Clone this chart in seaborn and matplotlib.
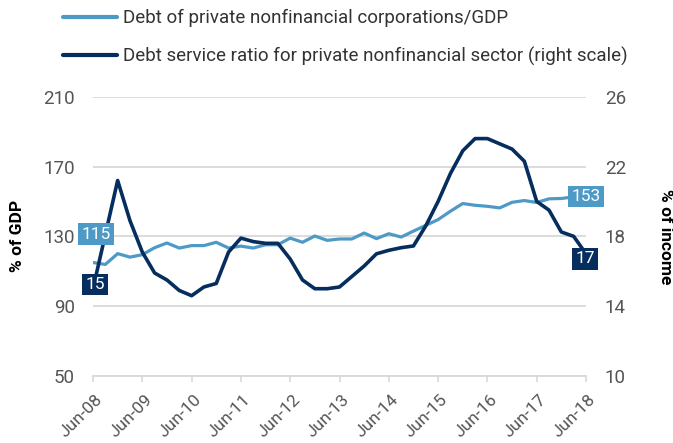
import matplotlib
matplotlib.use("Agg")
import matplotlib.pyplot as plt
from matplotlib.transforms import ScaledTranslation
import seaborn as sns
import pandas as pd
import numpy as np

# Quarterly observations, Jun-08 through Jun-18
quarters = pd.period_range("2008Q2", "2018Q2", freq="Q").strftime("%b-%y").tolist()

# Debt of private nonfinancial corporations, % of GDP
debt_to_gdp = [
    115.0, 113.9, 120.1, 118.1, 119.5, 123.5, 126.2, 123.3, 124.7, 124.7,
    126.6, 123.3, 124.4, 123.3, 125.2, 125.2, 129.0, 126.6, 130.2, 127.7,
    128.5, 128.5, 131.9, 128.7, 131.5, 129.6, 133.0, 136.3, 139.6, 144.4,
    148.8, 147.8, 147.2, 146.3, 149.5, 150.5, 149.4, 151.5, 151.7, 152.6,
    153.0,
]

# Debt service ratio for the private nonfinancial sector, % of income
debt_service_ratio = [
    15.0, 18.1, 21.2, 18.9, 17.1, 15.9, 15.5, 14.9, 14.6, 15.1,
    15.3, 17.1, 17.9, 17.7, 17.6, 17.6, 16.7, 15.5, 15.0, 15.0,
    15.1, 15.7, 16.3, 17.0, 17.2, 17.35, 17.45, 18.6, 20.0, 21.6,
    22.9, 23.6, 23.6, 23.3, 23.0, 22.3, 20.0, 19.5, 18.25, 18.0,
    17.0,
]

left_ticks = [50, 90, 130, 170, 210]
right_ticks = [10, 14, 18, 22, 26]
x_tick_labels = ["Jun-08", "Jun-09", "Jun-10", "Jun-11", "Jun-12", "Jun-13",
                 "Jun-14", "Jun-15", "Jun-16", "Jun-17", "Jun-18"]

series_names = ["Debt of private nonfinancial corporations/GDP",
                "Debt service ratio for private nonfinancial sector (right scale)"]

LIGHT = "#4E9AC7"
DARK = "#052D5E"
GRID = "#D9D9D9"
TICK_TXT = "#555555"
LEGEND_TXT = "#333333"

sns.set_theme(style="white")
plt.rcParams["font.family"] = ["Roboto", "DejaVu Sans"]

df = pd.DataFrame({
    "t": np.arange(len(quarters)),
    "quarter": quarters,
    "debt": debt_to_gdp,
    "dsr": debt_service_ratio,
})

W, H = 673, 443
fig = plt.figure(figsize=(W / 100, H / 100), dpi=100)
left_px, right_px, top_px, bottom_px = 93, 586, 96.7, 376
ax = fig.add_axes([left_px / W, 1 - bottom_px / H,
                   (right_px - left_px) / W, (bottom_px - top_px) / H])

sns.lineplot(data=df, x="t", y="debt", ax=ax, color=LIGHT, linewidth=2.3,
             label=series_names[0], legend=False)
ax2 = ax.twinx()
sns.lineplot(data=df, x="t", y="dsr", ax=ax2, color=DARK, linewidth=2.6,
             label=series_names[1], legend=False)

ax.set_xlim(0, len(quarters) - 1)
ax.set_ylim(left_ticks[0], left_ticks[-1])
ax2.set_ylim(right_ticks[0], right_ticks[-1])

ax.set_yticks(left_ticks)
ax2.set_yticks(right_ticks)
ax.set_xticks(np.arange(0, len(quarters), 4))
ax.set_xticklabels(x_tick_labels)

ax.grid(axis="y", color=GRID, linewidth=1.3)
ax.set_axisbelow(True)
for a in (ax, ax2):
    for s in a.spines.values():
        s.set_visible(False)
ax.spines["bottom"].set_visible(True)
ax.spines["bottom"].set_color(GRID)
ax.spines["bottom"].set_linewidth(1.3)

ax.tick_params(axis="y", length=0, pad=13, labelsize=13.5, labelcolor=TICK_TXT)
ax2.tick_params(axis="y", length=0, pad=13.5, labelsize=13.5, labelcolor=TICK_TXT)
ax.tick_params(axis="x", direction="out", length=4.3, width=1.2, color=GRID,
               bottom=True, pad=7, labelsize=12.5, labelcolor=TICK_TXT)
shift = ScaledTranslation(2 / 100, 0, fig.dpi_scale_trans)
for lab in ax.get_xticklabels():
    lab.set_rotation(45)
    lab.set_ha("right")
    lab.set_va("top")
    lab.set_rotation_mode("anchor")
    lab.set_transform(lab.get_transform() + shift)

ax.set_xlabel("")
ax.set_ylabel("% of GDP", fontsize=12.5, fontweight="bold", color="black")
ax2.set_ylabel("% of income", fontsize=12.5, fontweight="bold", color="black",
               rotation=270)
ax.yaxis.set_label_coords((25 - left_px) / (right_px - left_px), 0.5)
ax2.yaxis.set_label_coords((673 - left_px) / (right_px - left_px), 0.5)

# Value tags at the first and last observation, drawn above both lines
box_kw = dict(fontsize=12.5, color="white", ha="center",
              va="center", textcoords="offset points", annotation_clip=False,
              zorder=10)
first, last = 0, len(quarters) - 1
ax2.annotate(f"{debt_to_gdp[first]:.0f}", (first, debt_to_gdp[first]),
             xycoords=ax.transData, xytext=(2, 20.5),
             bbox=dict(boxstyle="square,pad=0.18", fc=LIGHT, ec="none"), **box_kw)
ax2.annotate(f"{debt_service_ratio[first]:.0f}", (first, debt_service_ratio[first]),
             xycoords=ax2.transData, xytext=(1.5, 3.2),
             bbox=dict(boxstyle="square,pad=0.18", fc=DARK, ec="none"), **box_kw)
ax2.annotate(f"{debt_to_gdp[last]:.0f}", (last, debt_to_gdp[last]),
             xycoords=ax.transData, xytext=(0, 0),
             bbox=dict(boxstyle="square,pad=0.18", fc=LIGHT, ec="none"), **box_kw)
ax2.annotate(f"{debt_service_ratio[last]:.0f}", (last, debt_service_ratio[last]),
             xycoords=ax2.transData, xytext=(-0.5, -3.7),
             bbox=dict(boxstyle="square,pad=0.18", fc=DARK, ec="none"), **box_kw)

handles = ax.get_lines()[:1] + ax2.get_lines()[:1]
leg = fig.legend(handles, series_names, loc="upper left",
                 bbox_to_anchor=(63 / W, 1 - 9 / H), frameon=False,
                 fontsize=13.5, handlelength=2.9, handletextpad=0.3,
                 labelspacing=1.05, borderpad=0, borderaxespad=0)
for t in leg.get_texts():
    t.set_color(LEGEND_TXT)
for l in leg.get_lines():
    l.set_linewidth(3)
    l.set_solid_capstyle("round")

fig.savefig("out.png", dpi=100)
